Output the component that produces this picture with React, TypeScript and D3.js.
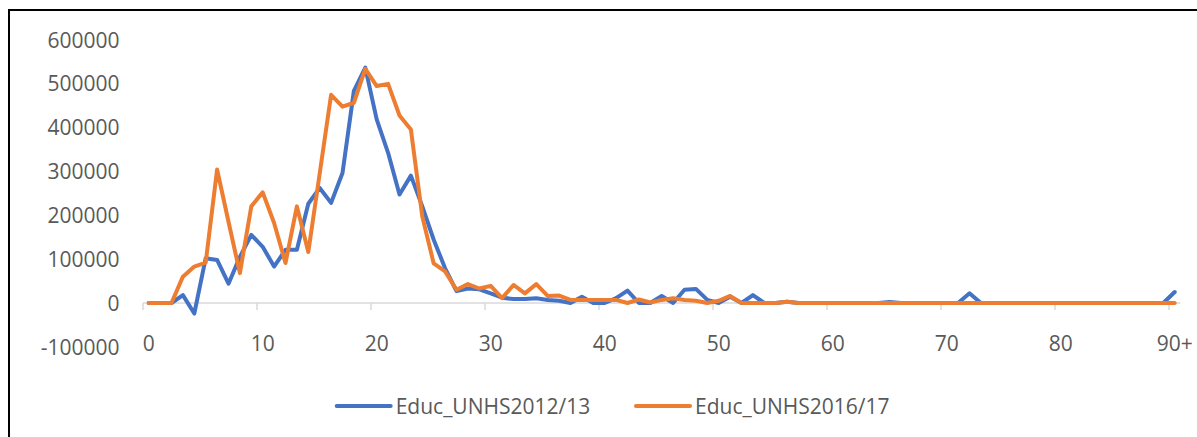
import React from "react";
import * as d3 from "d3";

const ages: string[] = Array.from({ length: 91 }, (_, i) => (i === 90 ? "90+" : String(i)));

const educ2012: number[] = [
  0, 0, 0, 18000, -24000, 102000, 98000, 44000, 105000, 155000,
  128000, 83000, 121000, 121000, 226000, 262000, 228000, 296000, 483000, 536000,
  418000, 342000, 247000, 290000, 220000, 144000, 79000, 27000, 33000, 31000,
  22000, 12000, 9000, 9000, 11000, 7000, 5000, 0, 14000, 0,
  0, 11000, 28000, 0, 0, 16000, 0, 30000, 32000, 7000,
  0, 14000, 0, 18000, 0, 0, 3000, 0, 0, 0,
  0, 0, 0, 0, 0, 2000, 0, 0, 0, 0,
  0, 0, 22000, 0, 0, 0, 0, 0, 0, 0,
  0, 0, 0, 0, 0, 0, 0, 0, 0, 0,
  25000,
];

const educ2016: number[] = [
  0, 0, 0, 60000, 83000, 92000, 304000, 185000, 68000, 220000,
  252000, 182000, 91000, 220000, 116000, 295000, 474000, 447000, 456000, 533000,
  494000, 499000, 427000, 395000, 197000, 90000, 72000, 30000, 43000, 33000,
  39000, 11000, 41000, 22000, 43000, 16000, 17000, 7000, 7000, 7000,
  7000, 7000, 0, 8000, 1000, 7000, 11000, 7000, 5000, 0,
  5000, 16000, 0, 0, 0, 0, 3000, 0, 0, 0,
  0, 0, 0, 0, 0, 0, 0, 0, 0, 0,
  0, 0, 0, 0, 0, 0, 0, 0, 0, 0,
  0, 0, 0, 0, 0, 0, 0, 0, 0, 0,
  0,
];

const yTicks: number[] = [-100000, 0, 100000, 200000, 300000, 400000, 500000, 600000];
const xLabelIdx: number[] = [0, 10, 20, 30, 40, 50, 60, 70, 80, 90];

const seriesNames = ["Educ_UNHS2012/13", "Educ_UNHS2016/17"];
const colors = ["#4472C4", "#ED7D31"];

export default function App() {
  const W = 1197;
  const H = 437;
  const x = d3.scaleBand<string>().domain(ages).range([143, 1180.4]).paddingInner(0).paddingOuter(0);
  const y = d3.scaleLinear().domain([-100000, 600000]).range([346.9, 39.5]);
  const cx = (i: number) => (x(ages[i]) as number) + x.bandwidth() / 2;
  const line = d3
    .line<number>()
    .x((_, i) => cx(i))
    .y((d) => y(d));
  const font = "'Open Sans', 'Liberation Sans', sans-serif";
  const txt = "#595959";
  const series = [educ2012, educ2016];
  const legendX = [336.7, 636];

  return (
    <svg
      width={W}
      height={H}
      style={{ position: "absolute", left: 0, top: 0, display: "block", background: "#fff" }}
    >
      <rect x={9} y={10} width={1300} height={600} fill="#fff" stroke="#000" strokeWidth={2} />
      {yTicks.map((t) => (
        <text
          key={t}
          x={119.5}
          y={y(t)}
          textAnchor="end"
          dominantBaseline="central"
          fontFamily={font}
          fontSize={21}
          fill={txt}
        >
          {t}
        </text>
      ))}
      <line x1={143} x2={1180.4} y1={y(0)} y2={y(0)} stroke="#d9d9d9" strokeWidth={1.5} />
      {xLabelIdx.map((i) => (
        <line
          key={"t" + i}
          x1={x(ages[i]) as number}
          x2={x(ages[i]) as number}
          y1={y(0)}
          y2={y(0) + 7}
          stroke="#d9d9d9"
          strokeWidth={1.5}
        />
      ))}
      {xLabelIdx.map((i) => (
        <text
          key={"l" + i}
          x={cx(i)}
          y={343}
          textAnchor="middle"
          dominantBaseline="central"
          fontFamily={font}
          fontSize={21}
          fill={txt}
        >
          {ages[i]}
        </text>
      ))}
      {series.map((s, k) => (
        <path
          key={"s" + k}
          d={line(s) || ""}
          fill="none"
          stroke={colors[k]}
          strokeWidth={4}
          strokeLinejoin="round"
          strokeLinecap="round"
        />
      ))}
      {seriesNames.map((n, k) => (
        <g key={"lg" + k}>
          <line
            x1={legendX[k]}
            x2={legendX[k] + 54}
            y1={406}
            y2={406}
            stroke={colors[k]}
            strokeWidth={4}
            strokeLinecap="round"
          />
          <text
            x={legendX[k] + 59}
            y={406}
            dominantBaseline="central"
            fontFamily={font}
            fontSize={21}
            fill={txt}
          >
            {n}
          </text>
        </g>
      ))}
    </svg>
  );
}
